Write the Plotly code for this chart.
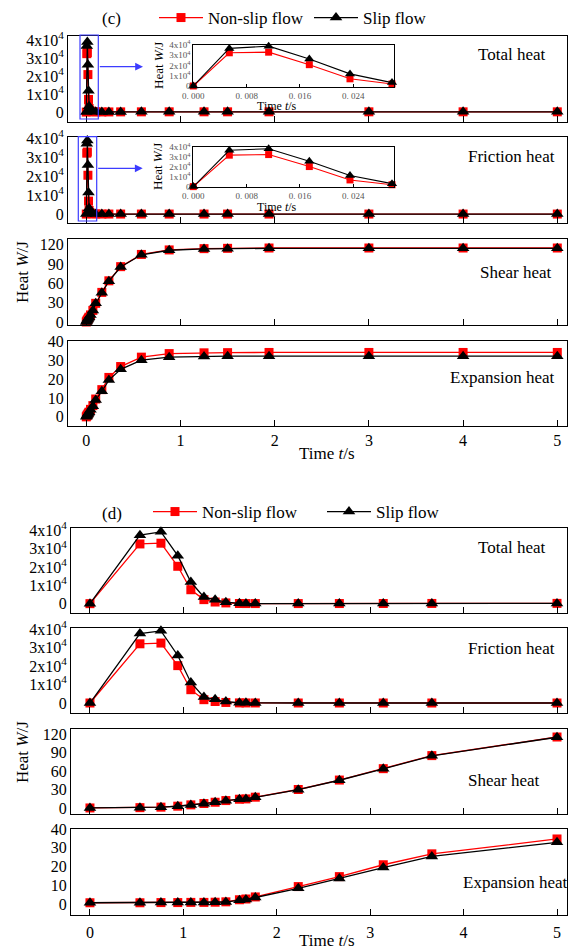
import plotly.graph_objects as go

W, H = 569, 949
FONT = "Liberation Serif"
RED = "#ff0000"
BLACK = "#000000"
BLUE = "#3c3cff"

# ---------------- data: panel (c) ----------------
time_c = [0, 0.0054, 0.0113, 0.0174, 0.0235, 0.0298, 0.045, 0.07, 0.1, 0.165,
          0.24, 0.365, 0.585, 0.88, 1.25, 1.5, 1.94, 3, 4, 5]

total_c_nonslip = [0, 32400, 33000, 20800, 7000, 2000, 520, 200, 100, 75,
                   90, 115, 138, 146, 148, 149, 149, 149, 149, 149]
total_c_slip = [0, 36700, 38900, 26300, 11800, 3300, 920, 320, 130, 80,
                90, 113, 136, 144, 146, 146, 147, 147, 147, 147]

friction_c_nonslip = [0, 32000, 32600, 20400, 6800, 1900, 500, 180, 60, 15,
                      5, 2, 1, 0, 0, 0, 0, 0, 0, 0]
friction_c_slip = [0, 37000, 38600, 25800, 11300, 3000, 900, 300, 90, 20,
                   6, 2, 1, 0, 0, 0, 0, 0, 0, 0]

shear_c_nonslip = [0, 1.5, 3, 4.5, 6, 7.5, 11, 18, 29, 46,
                   64, 86, 105, 112, 114, 114.5, 115, 115, 115, 115]
shear_c_slip = [0, 1.5, 3, 4.5, 6, 7.5, 11, 18, 29, 45.5,
                63.5, 85.5, 104.5, 111.5, 113.5, 114, 114.5, 114.5, 114.5, 114.5]

expansion_c_nonslip = [0, 0.5, 1, 1.5, 2, 2.5, 4, 6, 9.5, 14.5,
                       21, 26.8, 31.8, 33.7, 34.1, 34.2, 34.3, 34.3, 34.3, 34.3]
expansion_c_slip = [0, 0.5, 1, 1.5, 2, 2.4, 3.8, 5.7, 9, 13.6,
                    19.6, 25.3, 30.2, 31.8, 32.2, 32.3, 32.3, 32.3, 32.3, 32.3]

INSET_N = 6  # points shown in the zoomed insets (t <= 0.03 s)

# ---------------- data: panel (d) ----------------
time_d = [0, 0.535, 0.76, 0.94, 1.08, 1.22, 1.34, 1.455, 1.6, 1.67, 1.77,
          2.23, 2.67, 3.14, 3.66, 5.0]

total_d_nonslip = [0, 32600, 33000, 20400, 7600, 2200, 900, 400, 80, 60, 45,
                   45, 62, 86, 113, 150]
total_d_slip = [0, 37400, 39200, 26200, 11800, 3600, 2200, 800, 170, 100, 60,
                48, 64, 85, 111, 148]

friction_d_nonslip = [0, 32000, 32400, 20200, 7200, 1800, 800, 300, 60, 40, 20,
                      5, 2, 1, 1, 1]
friction_d_slip = [0, 37500, 39000, 25700, 11100, 3200, 2000, 800, 150, 80, 40,
                   10, 5, 2, 1, 1]

shear_d_nonslip = [0, 0.5, 1.3, 2.9, 5, 7.2, 9.3, 12, 14.2, 14.7, 17.5,
                   30, 45.3, 63.8, 85, 115.2]
shear_d_slip = [0, 0.5, 1.2, 2.8, 4.8, 7, 9.1, 11.8, 14, 14.5, 17.2,
                29.6, 45, 63.5, 84.7, 114.8]

expansion_d_nonslip = [0.8, 0.8, 0.9, 0.9, 1, 1, 1.1, 1.3, 2.4, 2.8, 3.9,
                       9.4, 14.7, 21, 26.8, 34.7]
expansion_d_slip = [0.8, 0.8, 0.9, 0.9, 1, 1, 1.1, 1.2, 2.2, 2.6, 3.6,
                    8.5, 13.7, 19.5, 25.4, 32.9]

# ---------------- tick labels ----------------
big_tickvals = [0, 10000, 20000, 30000, 40000]
big_ticktext = ["0", "1x10<sup>4</sup>", "2x10<sup>4</sup>", "3x10<sup>4</sup>", "4x10<sup>4</sup>"]
shear_tickvals = [0, 30, 60, 90, 120]
expansion_tickvals = [0, 10, 20, 30, 40]
time_tickvals = [0, 1, 2, 3, 4, 5]
inset_xtickvals = [0, 0.008, 0.016, 0.024]
inset_xticktext = ["0. 000", "0. 008", "0. 016", "0. 024"]

series_names = ["Non-slip flow", "Slip flow"]


def fx(px):
    return px / W


def fy(py):
    return 1 - py / H


def text_note(text, x, y, size=17, angle=0, color=BLACK):
    return dict(text=text, x=fx(x), y=fy(y), xref="paper", yref="paper",
                showarrow=False, xanchor="center", yanchor="middle", textangle=angle,
                font=dict(family=FONT, size=size, color=color))


fig = go.Figure()
layout = {}

# panel geometry (pixels): id, left, right, top, bottom, x-range, y-range, ticks,
# label, label pos, data, legend, x tick-label standoff (None = no labels)
panels = [
    (1, 68, 567, 36, 122, [-0.194, 5.103], [-5500, 42200], (big_tickvals, big_ticktext),
     "Total heat", (512, 55), time_c, total_c_nonslip, total_c_slip, "legend", None),
    (2, 68, 567, 137, 223, [-0.194, 5.103], [-4700, 40500], (big_tickvals, big_ticktext),
     "Friction heat", (511, 157), time_c, friction_c_nonslip, friction_c_slip, None, None),
    (3, 68, 567, 239, 325, [-0.194, 5.103], [-4.7, 129], (shear_tickvals, None),
     "Shear heat", (516, 272), time_c, shear_c_nonslip, shear_c_slip, None, None),
    (4, 68, 567, 341, 425.5, [-0.194, 5.103], [-4.6, 40.4], (expansion_tickvals, None),
     "Expansion heat", (502, 377), time_c, expansion_c_nonslip, expansion_c_slip, None, 0),
    (5, 71, 567, 528, 613, [-0.203, 5.107], [-5100, 41300], (big_tickvals, big_ticktext),
     "Total heat", (512, 547), time_d, total_d_nonslip, total_d_slip, "legend2", None),
    (6, 71, 567, 628, 713, [-0.203, 5.107], [-5400, 40540], (big_tickvals, big_ticktext),
     "Friction heat", (511, 648), time_d, friction_d_nonslip, friction_d_slip, None, None),
    (7, 71, 567, 729, 814, [-0.203, 5.107], [-9.8, 128.2], (shear_tickvals, None),
     "Shear heat", (504, 780), time_d, shear_d_nonslip, shear_d_slip, None, None),
    (8, 71, 567, 829, 915, [-0.203, 5.107], [-5.7, 40], (expansion_tickvals, None),
     "Expansion heat", (515, 882), time_d, expansion_d_nonslip, expansion_d_slip, None, 3),
]

annotations = []
shapes = []

ns_style = dict(mode="lines+markers", line=dict(color=RED, width=1.3),
                marker=dict(symbol="square", size=9, color=RED))
s_style = dict(mode="lines+markers", line=dict(color=BLACK, width=1.3),
               marker=dict(symbol="triangle-up", size=11, color=BLACK))

for (i, l, r, t, b, xr, yr, ticks, label, lpos, tx, ns, sl, leg, standoff) in panels:
    xa = "xaxis" if i == 1 else f"xaxis{i}"
    ya = "yaxis" if i == 1 else f"yaxis{i}"
    xref = "x" if i == 1 else f"x{i}"
    yref = "y" if i == 1 else f"y{i}"
    xax = dict(
        domain=[fx(l), fx(r)], range=xr, anchor=yref,
        showline=True, mirror=True, linecolor=BLACK, linewidth=1,
        ticks="inside", ticklen=6, tickcolor=BLACK, tickwidth=1,
        tickvals=time_tickvals, showticklabels=standoff is not None,
        showgrid=False, zeroline=False, automargin=False,
        tickfont=dict(family=FONT, size=16, color=BLACK),
    )
    if standoff:
        xax["ticklabelstandoff"] = standoff
    layout[xa] = xax
    tv, tt = ticks
    yax = dict(
        domain=[fy(b), fy(t)], range=yr, anchor=xref,
        showline=True, mirror=True, linecolor=BLACK, linewidth=1,
        ticks="", tickvals=tv, showgrid=False, zeroline=False, automargin=False,
        tickfont=dict(family=FONT, size=16, color=BLACK),
    )
    if tt is not None:
        yax["ticktext"] = tt
    layout[ya] = yax

    for name, ys, style in ((series_names[0], ns, ns_style), (series_names[1], sl, s_style)):
        tr = go.Scatter(x=tx, y=ys, name=name, xaxis=xref, yaxis=yref,
                        showlegend=leg is not None, cliponaxis=False, **style)
        if leg is not None:
            tr.legend = leg
        fig.add_trace(tr)

    annotations.append(text_note(label, lpos[0], lpos[1]))

# zoomed insets of the first 0.03 s in panel (c)
insets = [
    (9, 45, 86.7, total_c_nonslip, total_c_slip, 66, 106),
    (10, 147.3, 187.3, friction_c_nonslip, friction_c_slip, 167, 207),
]
for (i, t, b, ns, sl, ycenter, time_y) in insets:
    xref, yref = f"x{i}", f"y{i}"
    layout[f"xaxis{i}"] = dict(
        domain=[fx(193.3), fx(394)], range=[0, 0.0301], anchor=yref,
        showline=True, mirror=True, linecolor=BLACK, linewidth=1,
        ticks="inside", ticklen=3, tickcolor=BLACK,
        tickvals=inset_xtickvals, ticktext=inset_xticktext,
        showgrid=False, zeroline=False, automargin=False,
        tickfont=dict(family=FONT, size=9, color="#555555"),
    )
    layout[f"yaxis{i}"] = dict(
        domain=[fy(b), fy(t)], range=[-700, 40000], anchor=xref,
        showline=True, mirror=True, linecolor=BLACK, linewidth=1,
        ticks="", tickvals=big_tickvals, ticktext=big_ticktext,
        showgrid=False, zeroline=False, automargin=False,
        tickfont=dict(family=FONT, size=9, color="#555555"),
    )
    for ys, color, sym, size in ((ns, RED, "square", 7), (sl, BLACK, "triangle-up", 9)):
        fig.add_trace(go.Scatter(
            x=time_c[:INSET_N], y=ys[:INSET_N], xaxis=xref, yaxis=yref,
            mode="lines+markers", showlegend=False, cliponaxis=False,
            line=dict(color=color, width=1.1),
            marker=dict(symbol=sym, size=size, color=color)))
    annotations.append(text_note("Time <i>t</i>/s", 276.5, time_y, size=12))
    annotations.append(text_note("Heat <i>W</i>/J", 158, ycenter, size=13, angle=-90))

# blue zoom frames and arrows pointing at the insets
for (x0, x1, y0, y1, ay, head) in ((80, 98.3, 35, 119, 66.7, 143),
                                   (78.3, 96.7, 136.7, 221, 168.3, 142.7)):
    shapes.append(dict(type="rect", xref="paper", yref="paper",
                       x0=fx(x0), x1=fx(x1), y0=fy(y1), y1=fy(y0),
                       line=dict(color=BLUE, width=1.2)))
    annotations.append(dict(text="", x=fx(head), y=fy(ay), xref="paper", yref="paper",
                            ax=x1 - head, ay=0, showarrow=True, arrowhead=2, arrowsize=1.3,
                            arrowwidth=1.2, arrowcolor=BLUE))

# panel tags, axis titles
annotations.append(text_note("(c)", 111, 19))
annotations.append(text_note("(d)", 112, 513))
for y in (454, 940):
    annotations.append(text_note("Time <i>t</i>/s", 327, y))
for y in (272, 752):
    annotations.append(text_note("Heat <i>W</i>/J", 22, y, angle=-90))

legend_common = dict(orientation="h", xanchor="left", yanchor="middle",
                     bgcolor="rgba(0,0,0,0)", borderwidth=0, itemwidth=44,
                     font=dict(family=FONT, size=17, color=BLACK), tracegroupgap=0,
                     entrywidthmode="pixels")

fig.update_layout(
    width=W, height=H,
    margin=dict(l=0, r=0, t=0, b=0, pad=0, autoexpand=False),
    font=dict(family=FONT, size=16, color=BLACK),
    paper_bgcolor="white", plot_bgcolor="white",
    showlegend=True,
    legend=dict(x=fx(154), y=fy(18), entrywidth=96, **legend_common),
    legend2=dict(x=fx(148), y=fy(512), entrywidth=115, **legend_common),
    annotations=annotations,
    shapes=shapes,
    **layout,
)

fig.write_html("out.html")
